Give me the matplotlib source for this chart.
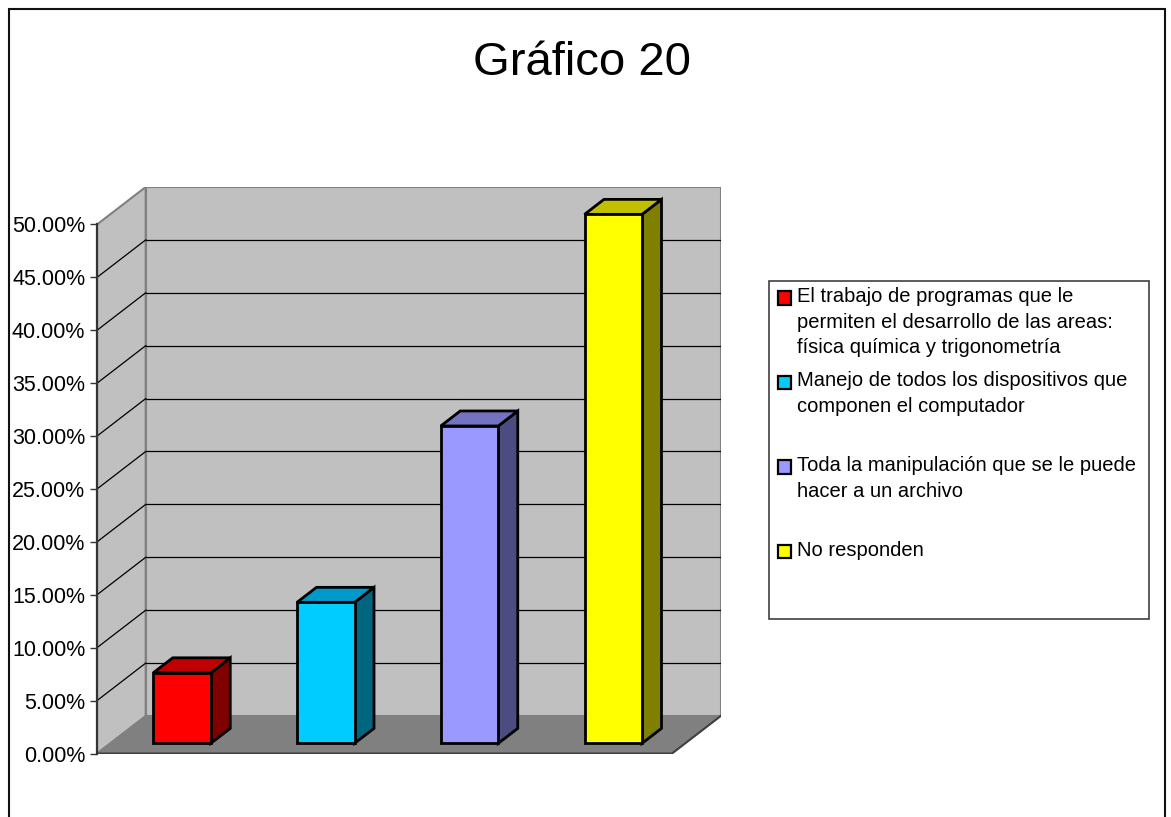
import matplotlib.pyplot as plt
from matplotlib.patches import Polygon, Rectangle
from matplotlib.ticker import FuncFormatter

plt.rcParams['font.family'] = ['Liberation Sans', 'DejaVu Sans']

# datos del grafico
categorias = [
    "El trabajo de programas que le\npermiten el desarrollo de las areas:\nfísica química y trigonometría",
    "Manejo de todos los dispositivos que\ncomponen el computador",
    "Toda la manipulación que se le puede\nhacer a un archivo",
    "No responden",
]
valores = [6.67, 13.33, 30.0, 50.0]
colores = ["#FF0000", "#00CCFF", "#9999FF", "#FFFF00"]
colores_tapa = ["#C00000", "#0099CC", "#7373BF", "#C0C000"]
colores_lado = ["#800000", "#006680", "#4C4C80", "#808000"]
ticks_y = [0, 5, 10, 15, 20, 25, 30, 35, 40, 45, 50]
titulo = "Gráfico 20"

W, H = 1171, 817
fig = plt.figure(figsize=(W / 100, H / 100), dpi=100)

# profundidad 3D en unidades de datos
DX = 48.7 / 143.75
DY = 37.5 / 10.58
x0, x1 = -0.5, 3.5
ymax = 50

def p(x, y, d):
    return (x + d * DX, y + d * DY)

ax_w = (x1 - x0) * 143.75 + 48.7
ax_h = (ymax + DY) * 10.58
ax = fig.add_axes([97 / W, 1 - 753.5 / H, ax_w / W, ax_h / H])
ax.set_xlim(x0, x1 + DX)
ax.set_ylim(0, ymax + DY)
ax.patch.set_visible(False)

# paredes y piso
pared_lado = [p(x0, 0, 0), p(x0, ymax, 0), p(x0, ymax, 1), p(x0, 0, 1)]
pared_fondo = [p(x0, 0, 1), p(x1, 0, 1), p(x1, ymax, 1), p(x0, ymax, 1)]
piso = [p(x0, 0, 0), p(x1, 0, 0), p(x1, 0, 1), p(x0, 0, 1)]
ax.add_patch(Polygon(pared_lado, closed=True, fc="#C0C0C0", ec="#808080", lw=1.5, zorder=1))
ax.add_patch(Polygon(pared_fondo, closed=True, fc="#C0C0C0", ec="#808080", lw=1.5, zorder=1))
ax.add_patch(Polygon(piso, closed=True, fc="#808080", ec="#808080", lw=1, zorder=2))
ax.plot([p(x0, 0, 0)[0], p(x1, 0, 0)[0], p(x1, 0, 1)[0]],
        [p(x0, 0, 0)[1], p(x1, 0, 0)[1], p(x1, 0, 1)[1]], color="#404040", lw=1.5, zorder=2)

# lineas de division
for v in ticks_y[1:-1]:
    a, b = p(x0, v, 1), p(x1, v, 1)
    ax.plot([a[0], b[0]], [a[1], b[1]], color="black", lw=0.9, zorder=1.5)
    c = p(x0, v, 0)
    ax.plot([c[0], a[0]], [c[1], a[1]], color="black", lw=0.9, zorder=1.5)

# barras 3D
w = 0.4
d0, d1 = 0.27, 0.67
for i, v in enumerate(valores):
    xl, xr = i - w / 2, i + w / 2
    frente = [p(xl, 0, d0), p(xr, 0, d0), p(xr, v, d0), p(xl, v, d0)]
    tapa = [p(xl, v, d0), p(xr, v, d0), p(xr, v, d1), p(xl, v, d1)]
    lado = [p(xr, 0, d0), p(xr, v, d0), p(xr, v, d1), p(xr, 0, d1)]
    ax.add_patch(Polygon(lado, closed=True, fc=colores_lado[i], ec="black", lw=2, joinstyle="miter", zorder=3))
    ax.add_patch(Polygon(tapa, closed=True, fc=colores_tapa[i], ec="black", lw=2, joinstyle="miter", zorder=3))
    ax.add_patch(Polygon(frente, closed=True, fc=colores[i], ec="black", lw=2, joinstyle="miter", zorder=4))

# eje y
for s in ["top", "right", "bottom"]:
    ax.spines[s].set_visible(False)
ax.spines["left"].set_bounds(0, ymax)
ax.spines["left"].set_color("#333333")
ax.spines["left"].set_linewidth(1.6)
ax.spines["left"].set_zorder(5)
ax.set_yticks(ticks_y)
ax.yaxis.set_major_formatter(FuncFormatter(lambda v, pos: "%.2f%%" % v))
ax.tick_params(axis="y", direction="out", length=5, width=1, color="#333333", pad=3.5, labelsize=15.5)
ax.set_xticks([])

# titulo
fig.text(582 / W, 1 - 63 / H, titulo, ha="center", va="center", fontsize=34)

# leyenda
fig.patches.append(Rectangle((769 / W, 1 - 619 / H), 380 / W, 338 / H, transform=fig.transFigure,
                             fc="white", ec="#404040", lw=1.2))
for i, etiqueta in enumerate(categorias):
    top = 291 + i * 84.5
    fig.patches.append(Rectangle((777.5 / W, 1 - (top + 13.5) / H), 13.5 / W, 13.5 / H, transform=fig.transFigure,
                                 fc=colores[i], ec="black", lw=1.6))
    fig.text(797 / W, 1 - (top - 4) / H, etiqueta, ha="left", va="top", fontsize=14.5, linespacing=1.44)

# marco exterior
fig.patches.append(Rectangle((8.5 / W, -0.05), (1165 - 8.5) / W, 1.05 - 8.5 / H, transform=fig.transFigure,
                             fill=False, ec="#111111", lw=1.5))

fig.savefig("out.png", dpi=100)
